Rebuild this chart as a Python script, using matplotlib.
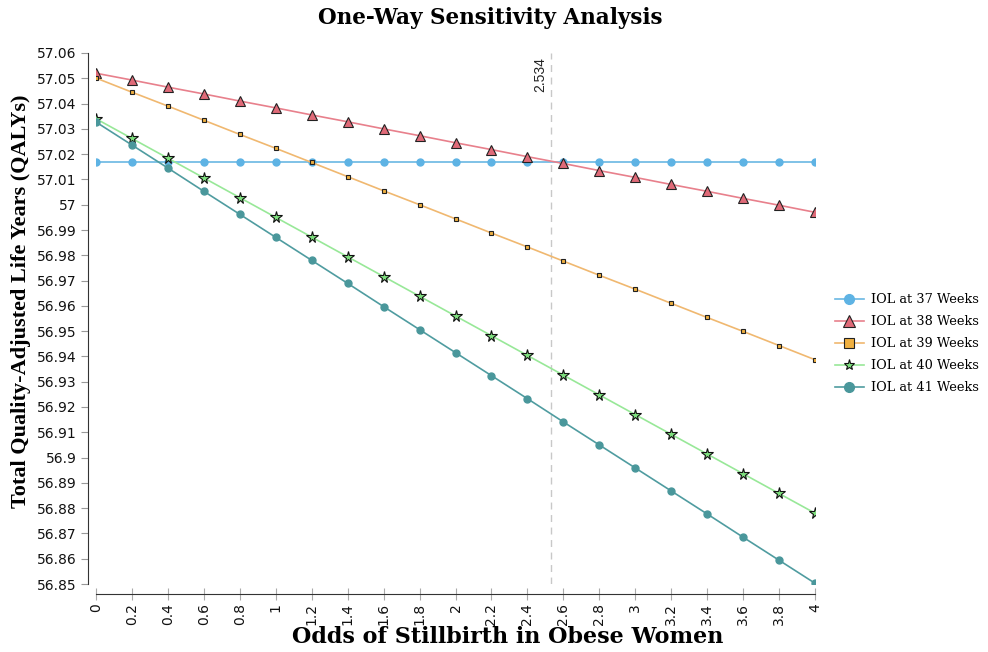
import matplotlib
matplotlib.use("Agg")
import matplotlib.pyplot as plt

odds = [0, 0.2, 0.4, 0.6, 0.8, 1, 1.2, 1.4, 1.6, 1.8, 2, 2.2, 2.4, 2.6, 2.8, 3, 3.2, 3.4, 3.6, 3.8, 4]
x_tick_labels = ["0", "0.2", "0.4", "0.6", "0.8", "1", "1.2", "1.4", "1.6", "1.8", "2",
                 "2.2", "2.4", "2.6", "2.8", "3", "3.2", "3.4", "3.6", "3.8", "4"]
y_ticks = [56.85, 56.86, 56.87, 56.88, 56.89, 56.9, 56.91, 56.92, 56.93, 56.94, 56.95,
           56.96, 56.97, 56.98, 56.99, 57.0, 57.01, 57.02, 57.03, 57.04, 57.05, 57.06]
y_tick_labels = ["56.85", "56.86", "56.87", "56.88", "56.89", "56.9", "56.91", "56.92",
                 "56.93", "56.94", "56.95", "56.96", "56.97", "56.98", "56.99", "57",
                 "57.01", "57.02", "57.03", "57.04", "57.05", "57.06"]

iol37 = [57.017] * 21
iol38 = [57.052, 57.0493, 57.0465, 57.0438, 57.041, 57.0383, 57.0355, 57.0328, 57.030, 57.0273,
         57.0245, 57.0218, 57.019, 57.0163, 57.0135, 57.0108, 57.008, 57.0053, 57.0025, 56.9998, 56.997]
iol39 = [57.0501, 57.0445, 57.0390, 57.0334, 57.0278, 57.0223, 57.0167, 57.0111, 57.0055, 57.0000,
         56.9944, 56.9888, 56.9833, 56.9777, 56.9721, 56.9666, 56.9610, 56.9554, 56.9499, 56.9443, 56.9387]
iol40 = [57.034, 57.0262, 57.0184, 57.0106, 57.0028, 56.995, 56.9872, 56.9794, 56.9716, 56.9638,
         56.956, 56.9482, 56.9404, 56.9326, 56.9248, 56.917, 56.9092, 56.9014, 56.8936, 56.8858, 56.878]
iol41 = [57.0327, 57.0236, 57.0145, 57.0053, 56.9962, 56.9871, 56.9780, 56.9689, 56.9597, 56.9506,
         56.9415, 56.9324, 56.9233, 56.9141, 56.9050, 56.8959, 56.8868, 56.8777, 56.8685, 56.8594, 56.8503]

threshold = 2.534
labels = ["IOL at 37 Weeks", "IOL at 38 Weeks", "IOL at 39 Weeks", "IOL at 40 Weeks", "IOL at 41 Weeks"]

fig = plt.figure(figsize=(9.88, 6.52), dpi=100)
ax = fig.add_axes([96/988, 1 - 584/652, (815 - 96)/988, (584 - 53)/652])

ax.axvline(threshold, color="#c8c8c8", linestyle=(0, (5, 4)), linewidth=1.0, zorder=1)
ax.text(threshold - 0.025, 57.0585, "2.534", rotation=90, ha="right", va="top",
        fontsize=10, family="Liberation Sans", color="#222222")

ax.plot(odds, iol37, color="#6ab7e3", lw=1.2, marker="o", ms=5, mfc="#5eb3e4", mec="#5eb3e4",
        label=labels[0], zorder=3)
ax.plot(odds, iol38, color="#e8808c", lw=1.2, marker="^", ms=6.5, mfc="#e06a78", mec="#222222", mew=0.8,
        label=labels[1], zorder=3)
ax.plot(odds, iol39, color="#f0b870", lw=1.2, marker="s", ms=3.5, mfc="#f0b040", mec="#222222", mew=0.8,
        label=labels[2], zorder=3)
ax.plot(odds, iol40, color="#98e898", lw=1.2, marker="*", ms=8.5, mfc="#7ee07e", mec="#111111", mew=0.8,
        label=labels[3], zorder=3)
ax.plot(odds, iol41, color="#4f9ca0", lw=1.2, marker="o", ms=5, mfc="#4a979b", mec="#4a979b",
        label=labels[4], zorder=3)

ax.set_xlim(0, 4)
ax.set_ylim(56.85, 57.06)
ax.set_xticks(odds)
ax.set_xticklabels(x_tick_labels, fontsize=9, family="Liberation Sans")
ax.set_yticks(y_ticks)
ax.set_yticklabels(y_tick_labels, fontsize=10, family="DejaVu Sans")

for s in ["top", "right"]:
    ax.spines[s].set_visible(False)
ax.spines["left"].set_position(("outward", 6))
ax.spines["bottom"].set_position(("outward", 7.2))
ax.spines["left"].set_color("#333333")
ax.spines["bottom"].set_color("#333333")
ax.tick_params(axis="y", direction="out", length=5, color="#999999", pad=3, labelcolor="#111111")
ax.tick_params(axis="x", direction="inout", length=9, color="#aaaaaa", pad=2, labelrotation=90,
               labelcolor="#111111")

fig.text(508/988, 1 - 637/652, "Odds of Stillbirth in Obese Women", ha="center", va="center",
         fontsize=16, fontweight="bold", family="DejaVu Serif")
fig.text(21/988, 1 - 301/652, "Total Quality-Adjusted Life Years (QALYs)", ha="center", va="center",
         rotation=90, fontsize=16, fontweight="bold", family="Liberation Serif")
fig.text(490/988, 1 - 18/652, "One-Way Sensitivity Analysis", ha="center", va="center",
         fontsize=15.5, fontweight="bold", family="DejaVu Serif")

leg = ax.legend(loc="upper left", bbox_to_anchor=(830/988, 1 - 288/652), bbox_transform=fig.transFigure,
                frameon=False, prop={"family": "DejaVu Serif", "size": 9.3},
                handlelength=2.2, handletextpad=0.6, labelspacing=0.7, borderaxespad=0)
legend_marker_sizes = [7, 9, 7, 8, 7]
for h, msz in zip(leg.legend_handles, legend_marker_sizes):
    h.set_markersize(msz)

fig.savefig("out.png", dpi=100)
